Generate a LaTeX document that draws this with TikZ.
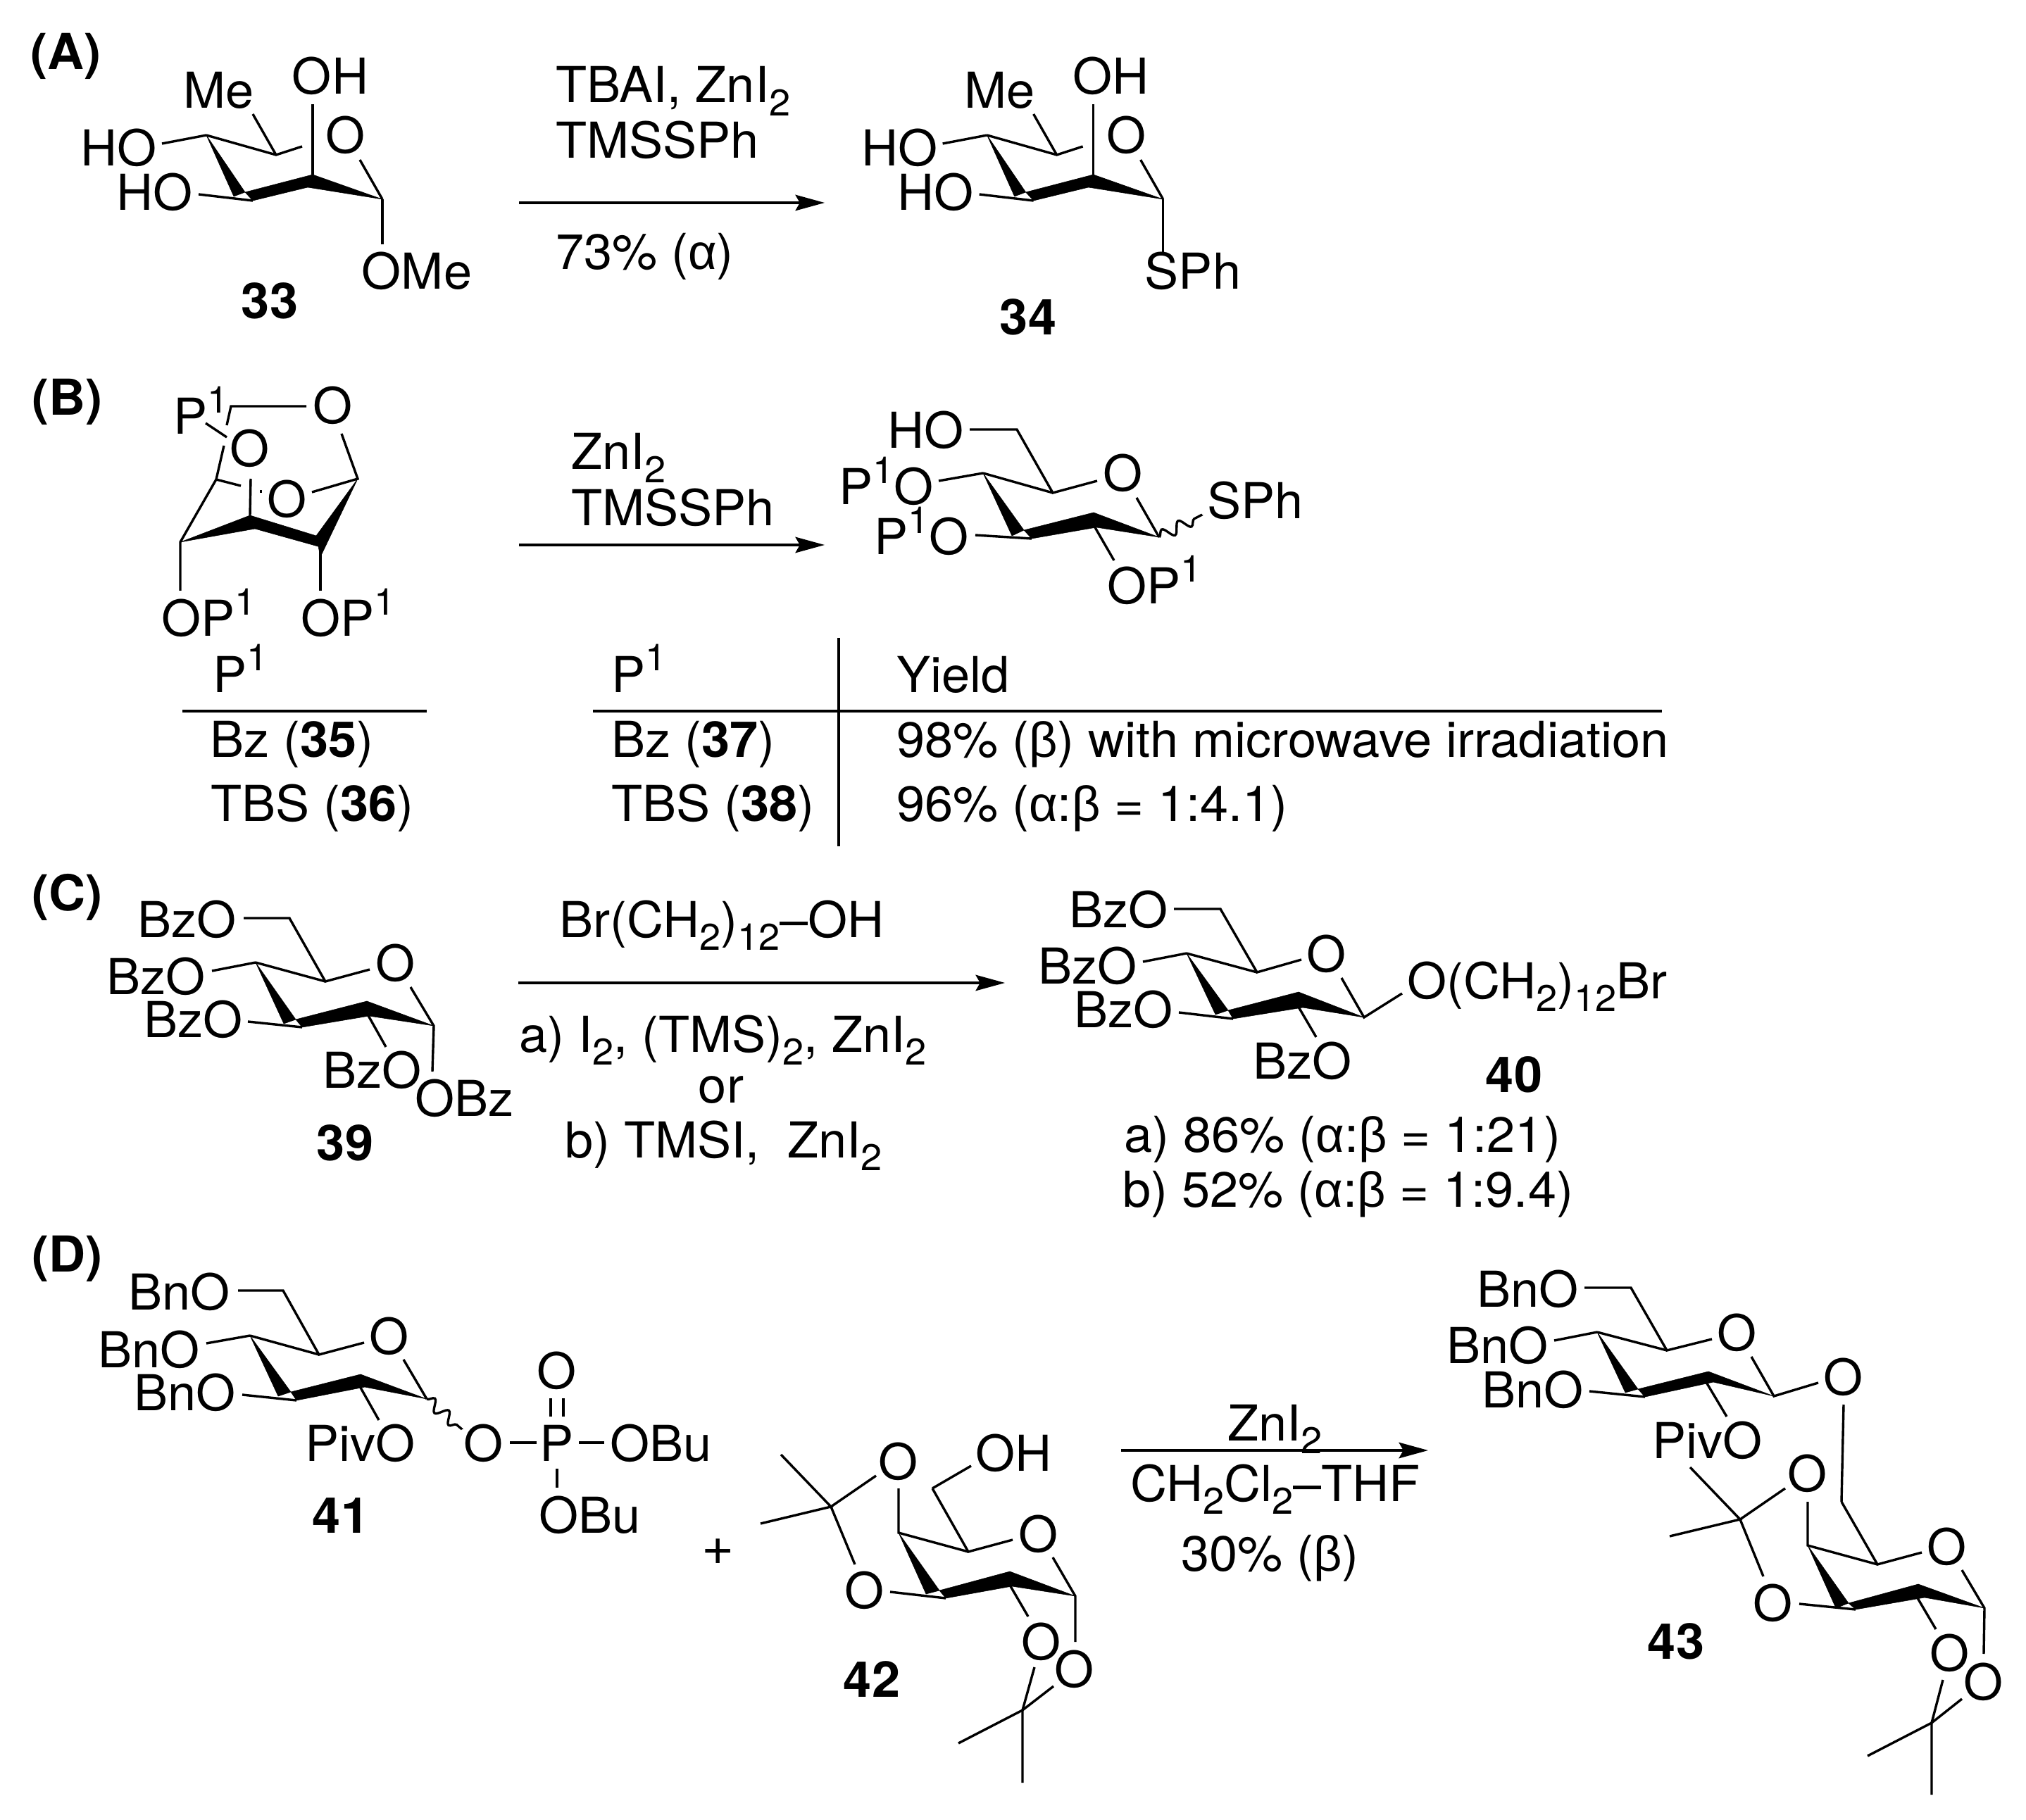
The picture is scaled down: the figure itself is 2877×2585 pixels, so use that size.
\documentclass[tikz,border=0pt]{standalone}
\usepackage{fontspec}
\setmainfont[FakeStretch=1.025]{TeX Gyre Heros}
\newfontfamily\grk{Liberation Sans}
\usetikzlibrary{arrows.meta,decorations.pathmorphing}
\newcommand{\sbs}[1]{\raisebox{-0.27em}{\fontsize{15}{15}\selectfont #1}}
\newcommand{\sps}[1]{\raisebox{0.43em}{\fontsize{15}{15}\selectfont #1}}
\newcommand{\ga}{{\grk α}}
\newcommand{\gb}{{\grk β}}
\tikzset{
  every node/.style={font=\fontsize{20}{24}\selectfont,inner sep=0pt,outer sep=0pt},
  lc/.style={anchor=base},
  lw/.style={anchor=base west},
  le/.style={anchor=base east},
  bf/.style={font=\fontsize{20}{24}\selectfont\bfseries},
  bond/.style={line width=0.97pt,line cap=butt,line join=miter},
  wb/.style={fill=black,draw=black,line width=0.15pt,line join=round},
  wavy/.style={line width=0.95pt,decorate,decoration={snake,segment length=7.5pt,amplitude=2.3pt,post length=0.5pt}},
  rxn/.style={line width=0.97pt,-{Stealth[length=11.8pt,width=6.4pt,inset=1.8pt]}},
}
% ring front edge: a=C4, b,c=wedge base, d, e, f = bold bond, g=C1
\newcommand{\ringfront}{%
  \fill[wb] (a)--(b)--(c)--cycle;
  \fill[wb] (b)--(d)--(e)--(f)--cycle;
  \fill[wb] (f)--(e)--(g)--cycle;
}
\newcommand{\fucsugar}{%
  \path (293,192) coordinate (a) (348,273) coordinate (b) (332,279) coordinate (c)
        (359,285) coordinate (d) (437,266) coordinate (e) (444,248) coordinate (f) (543,283) coordinate (g)
        (392,220) coordinate (c5) (429,208) coordinate (oe) (359,162) coordinate (me)
        (444,148) coordinate (oh) (230,204) coordinate (ho1) (282,276) coordinate (ho2) (511,227) coordinate (oe2);
  \node[lc] (lme) at (311,154) {Me};
  \node[lc] (loh) at (469,134) {OH};
  \node[lc] (lho1) at (169,236) {HO};
  \node[lc] (lho2) at (220,299) {HO};
  \node[lc] (lo) at (491,218) {O};
  \ringfront
  \draw[bond] (a)--(c5)--(oe);
  \draw[bond] (me)--(c5);
  \draw[bond] (oh)--(f);
  \draw[bond] (ho1)--(a);
  \draw[bond] (ho2)--(d);
  \draw[bond] (oe2)--(g);
}
\begin{document}
\begin{tikzpicture}[x=0.01cm,y=-0.01cm]
\fill[white] (0,0) rectangle (2877,2585);
\useasboundingbox (0,0) rectangle (2877,2585);

% Panel labels
\node[lw,bf] (pa) at (43,99) {(A)};
\node[lw,bf] (pb) at (45,590) {(B)};
\node[lw,bf] (pc) at (45,1293) {(C)};
\node[lw,bf] (pd) at (45,1806) {(D)};

% ---------- A
\begin{scope}[name prefix=m33-]
  \fucsugar
  \coordinate (ome) at (543,347);
  \draw[bond] (g)--(ome);
  \node[lc] (lome) at (592,411) {OMe};
\end{scope}
\node[lc,bf] (n33) at (383,453) {33};
\begin{scope}[name prefix=m34-,xshift=11.08cm]
  \fucsugar
  \coordinate (sph) at (543,361);
  \draw[bond] (g)--(sph);
\end{scope}
\node[lc] (lsph34) at (1694,411) {SPh};
\node[lc,bf] (n34) at (1460,476) {34};
\coordinate (aa) at (737,288); \coordinate (ab) at (1171,288);
\draw[rxn] (aa)--(ab);
\node[lw] (ra1) at (789,146) {TBAI, ZnI\sbs{2}};
\node[lw] (ra2) at (789,225) {TMSSPh};
\node[lw] (ra3) at (789,383) {73\% (\ga)};

% ---------- B left
\begin{scope}[name prefix=m35-]
  \path (328,577) coordinate (v1) (435,577) coordinate (ot) (322,604) coordinate (v2)
        (318,633) coordinate (v3) (307,681) coordinate (v4) (292,601) coordinate (p1) (322,621) coordinate (p2)
        (342,690) coordinate (v5) (256,770) coordinate (a) (443,699) coordinate (or) (508,680) coordinate (g)
        (485,616) coordinate (ot2) (356,680) coordinate (fv) (355,732) coordinate (f1) (362,751) coordinate (f2)
        (455,777) coordinate (r2) (449,761) coordinate (r1) (455,791) coordinate (r3)
        (256,839) coordinate (e1) (455,839) coordinate (e2)
        (370.5,696.5) coordinate (t1) (370.5,700.5) coordinate (t2);
  \fill[wb] (a)--(f1)--(f2)--cycle;
  \fill[wb] (f1)--(f2)--(r2)--(r1)--cycle;
  \fill[wb] (r1)--(r3)--(g)--cycle;
  \draw[bond] (ot)--(v1)--(v2);
  \draw[bond] (v3)--(v4)--(v5);
  \draw[bond] (p1)--(p2);
  \draw[bond] (v4)--(a)--(e1);
  \draw[bond] (or)--(g)--(ot2);
  \draw[bond] (fv)--(f1);
  \draw[bond] (r2)--(e2);
  \draw[bond] (t1)--(t2);
  \node[lw] (lp) at (246,617) {P\sps{1}};
  \node[lc] (lot) at (473,602) {O};
  \node[lc] (lof) at (355,663) {O};
  \node[lc] (lor) at (408,735) {O};
  \node[lw] (lop1) at (229,904) {OP\sps{1}};
  \node[lw] (lop2) at (427,904) {OP\sps{1}};
\end{scope}
\node[lw] (t1p) at (302,983) {P\sps{1}};
\coordinate (t1a) at (259,1010); \coordinate (t1b) at (606,1010);
\draw[bond] (t1a)--(t1b);
\node[lw] (t1r1) at (298,1075) {Bz (\textbf{35})};
\node[lw] (t1r2) at (299,1166) {TBS (\textbf{36})};

\coordinate (ba) at (737,774); \coordinate (bb) at (1171,774);
\draw[rxn] (ba)--(bb);
\node[lw] (rb1) at (811,667) {ZnI\sbs{2}};
\node[lw] (rb2) at (811,747) {TMSSPh};

% ---------- B product
\begin{scope}[name prefix=mb-]
  \path (1377,610) coordinate (h1) (1444,610) coordinate (h2) (1495,700) coordinate (c5)
        (1396,672) coordinate (a) (1558,683) coordinate (oe) (1333,683) coordinate (p4)
        (1385,760) coordinate (p3) (1465,765) coordinate (d) (1454,753) coordinate (b) (1437,761) coordinate (c)
        (1557,749) coordinate (e) (1553,728) coordinate (f) (1646,763) coordinate (g)
        (1614,707) coordinate (oe2) (1548,737) coordinate (o2a) (1582,796) coordinate (o2b) (1707,731) coordinate (sp);
  \ringfront
  \draw[bond] (h1)--(h2)--(c5)--(oe);
  \draw[bond] (a)--(c5);
  \draw[bond] (p4)--(a);
  \draw[bond] (p3)--(d);
  \draw[bond] (oe2)--(g);
  \draw[bond] (o2a)--(o2b);
  \draw[wavy] (g)--(sp);
  \node[le] (lho) at (1369,637) {HO};
  \node[lc] (lo) at (1595,698) {O};
  \node[le] (lp1) at (1326,717) {P\sps{1}O};
  \node[le] (lp2) at (1376,788) {P\sps{1}O};
  \node[lw] (lop) at (1572,857) {OP\sps{1}};
  \node[lw] (lsph) at (1714,737) {SPh};
\end{scope}
\coordinate (tv1) at (1191,906); \coordinate (tv2) at (1191,1202);
\coordinate (th1) at (842,1010); \coordinate (th2) at (2360,1010);
\draw[bond] (tv1)--(tv2);
\draw[bond] (th1)--(th2);
\node[lw] (t2p) at (868,983) {P\sps{1}};
\node[lw] (t2y) at (1273,983) {Yield};
\node[lw] (t2a) at (868,1075) {Bz (\textbf{37})};
\node[lw] (t2b) at (1273,1075) {98\% (\gb) with microwave irradiation};
\node[lw] (t2c) at (868,1166) {TBS (\textbf{38})};
\node[lw] (t2d) at (1273,1166) {96\% (\ga:\gb{} = 1:4.1)};

% ---------- C left
\begin{scope}[name prefix=m39-]
  \path (346,1304) coordinate (h1) (411,1304) coordinate (h2) (462,1394) coordinate (c5)
        (363,1367) coordinate (a) (525,1377) coordinate (oe) (301,1379) coordinate (p4)
        (352,1451) coordinate (p3) (429,1459) coordinate (d) (420,1448) coordinate (b) (403,1454) coordinate (c)
        (524,1443) coordinate (e) (521,1422) coordinate (f) (616,1457) coordinate (g)
        (583,1402) coordinate (oe2) (516,1430) coordinate (o2a) (548,1487) coordinate (o2b) (614,1522) coordinate (od);
  \ringfront
  \draw[bond] (h1)--(h2)--(c5)--(oe);
  \draw[bond] (a)--(c5);
  \draw[bond] (p4)--(a);
  \draw[bond] (p3)--(d);
  \draw[bond] (oe2)--(g)--(od);
  \draw[bond] (o2a)--(o2b);
  \node[le] (l1) at (336,1331) {BzO};
  \node[lc] (lo) at (562,1393) {O};
  \node[le] (l2) at (292,1412) {BzO};
  \node[le] (l3) at (345,1473) {BzO};
  \node[lw] (l4) at (458,1545) {BzO};
  \node[lw] (l5) at (589,1585) {OBz};
\end{scope}
\node[lc,bf] (n39) at (490,1648) {39};
\coordinate (ca) at (736,1396); \coordinate (cb) at (1427,1396);
\draw[rxn] (ca)--(cb);
\node[lw] (rc1) at (794,1331) {Br(CH\sbs{2})\sbs{12}–OH};
\node[lw] (rc2) at (737,1494) {a) I\sbs{2}, (TMS)\sbs{2}, ZnI\sbs{2}};
\node[lc] (rc3) at (1024,1566) {or};
\node[lw] (rc4) at (802,1644) {b) TMSI,~~ZnI\sbs{2}};

% ---------- C product
\begin{scope}[name prefix=m40-]
  \path (1667,1291) coordinate (h1) (1733,1291) coordinate (h2) (1785,1381) coordinate (c5)
        (1685,1354) coordinate (a) (1848,1363) coordinate (oe) (1623,1366) coordinate (p4)
        (1674,1438) coordinate (p3) (1751,1447) coordinate (d) (1744,1435) coordinate (b) (1726,1441) coordinate (c)
        (1850,1431) coordinate (e) (1844,1409) coordinate (f) (1937,1445) coordinate (g)
        (1905,1389) coordinate (oe2) (1838,1420) coordinate (o2a) (1869,1473) coordinate (o2b) (1991,1411) coordinate (od);
  \ringfront
  \draw[bond] (h1)--(h2)--(c5)--(oe);
  \draw[bond] (a)--(c5);
  \draw[bond] (p4)--(a);
  \draw[bond] (p3)--(d);
  \draw[bond] (oe2)--(g)--(od);
  \draw[bond] (o2a)--(o2b);
  \node[le] (l1) at (1659,1317) {BzO};
  \node[lc] (lo) at (1884,1380) {O};
  \node[le] (l2) at (1615,1397) {BzO};
  \node[le] (l3) at (1666,1459) {BzO};
  \node[lw] (l4) at (1779,1532) {BzO};
  \node[lw] (l5) at (1998,1418) {O(CH\sbs{2})\sbs{12}Br};
\end{scope}
\node[lc,bf] (n40) at (2150,1551) {40};
\node[lw] (yc1) at (1596,1636) {a) 86\% (\ga:\gb{} = 1:21)};
\node[lw] (yc2) at (1594,1714) {b) 52\% (\ga:\gb{} = 1:9.4)};

% ---------- D 41
\begin{scope}[name prefix=m41-]
  \path (338,1833) coordinate (h1) (402,1833) coordinate (h2) (453,1924) coordinate (c5)
        (355,1897) coordinate (a) (517,1907) coordinate (oe) (293,1908) coordinate (p4)
        (344,1981) coordinate (p3) (421,1989) coordinate (d) (413,1977) coordinate (b) (395,1983) coordinate (c)
        (518,1970) coordinate (e) (512,1952) coordinate (f) (606,1987) coordinate (g)
        (573,1931) coordinate (oe2) (507,1962) coordinate (o2a) (538,2017) coordinate (o2b) (656,2030) coordinate (wv)
        (724,2049) coordinate (x1) (762,2049) coordinate (x2) (822,2049) coordinate (x3) (858,2049) coordinate (x4)
        (782,1986) coordinate (y1) (782,2012) coordinate (y2) (800,1986) coordinate (y3) (800,2012) coordinate (y4)
        (791,2086) coordinate (z1) (791,2113) coordinate (z2);
  \ringfront
  \draw[bond] (h1)--(h2)--(c5)--(oe);
  \draw[bond] (a)--(c5);
  \draw[bond] (p4)--(a);
  \draw[bond] (p3)--(d);
  \draw[bond] (oe2)--(g);
  \draw[bond] (o2a)--(o2b);
  \draw[wavy] (g)--(wv);
  \draw[bond] (x1)--(x2);
  \draw[bond] (x3)--(x4);
  \draw[bond] (y1)--(y2);
  \draw[bond] (y3)--(y4);
  \draw[bond] (z1)--(z2);
  \node[le] (l1) at (327,1860) {BnO};
  \node[lc] (lo) at (553,1923) {O};
  \node[le] (l2) at (284,1942) {BnO};
  \node[le] (l3) at (335,2003) {BnO};
  \node[lw] (l4) at (433,2075) {PivO};
  \node[lc] (lo2) at (687,2075) {O};
  \node[lc] (lp) at (791,2075) {P};
  \node[lw] (lb1) at (866,2075) {OBu};
  \node[lc] (lo3) at (791,1972) {O};
  \node[lw] (lb2) at (765,2177) {OBu};
\end{scope}
\node[lc,bf] (n41) at (484,2177) {41};
\node[font=\fontsize{22}{24}\selectfont] (plus) at (1020,2204) {+};

% ---------- D 42
\newcommand{\isopro}{%
  \ringfront
  \draw[bond] (me1)--(cm)--(me2);
  \draw[bond] (ou)--(cm)--(ol);
  \draw[bond] (up)--(a)--(c5);
  \draw[bond] (ch)--(c5)--(oe);
  \draw[bond] (lowb)--(d);
  \draw[bond] (oe2)--(g)--(gd);
  \draw[bond] (o2a)--(o2b);
  \draw[bond] (q1)--(cq)--(q2);
  \draw[bond] (q3)--(cq)--(q4);
}
\begin{scope}[name prefix=m42-]
  \path (1180,2140) coordinate (cm) (1109,2066) coordinate (me1) (1080,2164) coordinate (me2)
        (1244,2096) coordinate (ou) (1214,2222) coordinate (ol)
        (1276,2177) coordinate (a) (1276,2114) coordinate (up) (1375,2204) coordinate (c5)
        (1324,2114) coordinate (ch) (1379,2082) coordinate (oh) (1438,2187) coordinate (oe)
        (1495,2212) coordinate (oe2) (1527,2267) coordinate (g) (1527,2332) coordinate (gd)
        (1264,2261) coordinate (lowb) (1343,2270) coordinate (d) (1334,2259) coordinate (b) (1315,2264) coordinate (c)
        (1437,2253) coordinate (e) (1434,2232) coordinate (f)
        (1428,2241) coordinate (o2a) (1460,2296) coordinate (o2b)
        (1452,2429) coordinate (cq) (1469,2368) coordinate (q1) (1452,2532) coordinate (q2)
        (1496,2395) coordinate (q3) (1361,2476) coordinate (q4);
  \isopro
  \draw[bond] (ch)--(oh);
  \node[lc] (lo1) at (1276,2101) {O};
  \node[lc] (lo2) at (1228,2284) {O};
  \node[lw] (loh) at (1385,2089) {OH};
  \node[lc] (lo3) at (1475,2204) {O};
  \node[lc] (lo4) at (1479,2357) {O};
  \node[lc] (lo5) at (1526,2396) {O};
\end{scope}
\node[lc,bf] (n42) at (1238,2410) {42};

\coordinate (da) at (1592,2060); \coordinate (db) at (2028,2060);
\draw[rxn] (da)--(db);
\node[lw] (rd1) at (1743,2046) {ZnI\sbs{2}};
\node[lw] (rd2) at (1605,2132) {CH\sbs{2}Cl\sbs{2}–THF};
\node[lw] (rd3) at (1677,2231) {30\% (\gb)};

% ---------- D 43
\begin{scope}[name prefix=m43a-]
  \path (2250,1829) coordinate (h1) (2316,1829) coordinate (h2) (2367,1918) coordinate (c5)
        (2268,1892) coordinate (a) (2431,1902) coordinate (oe) (2207,1904) coordinate (p4)
        (2257,1976) coordinate (p3) (2336,1984) coordinate (d) (2326,1973) coordinate (b) (2308,1978) coordinate (c)
        (2433,1963) coordinate (e) (2426,1948) coordinate (f) (2519,1983) coordinate (g)
        (2487,1927) coordinate (oe2) (2421,1960) coordinate (o2a) (2452,2012) coordinate (o2b) (2582,1964) coordinate (od);
  \ringfront
  \draw[bond] (h1)--(h2)--(c5)--(oe);
  \draw[bond] (a)--(c5);
  \draw[bond] (p4)--(a);
  \draw[bond] (p3)--(d);
  \draw[bond] (oe2)--(g)--(od);
  \draw[bond] (o2a)--(o2b);
  \node[le] (l1) at (2242,1856) {BnO};
  \node[lc] (lo) at (2467,1918) {O};
  \node[le] (l2) at (2199,1936) {BnO};
  \node[le] (l3) at (2249,1999) {BnO};
  \node[lw] (l4) at (2346,2071) {PivO};
  \node[lc] (lgl) at (2618,1981) {O};
\end{scope}
\begin{scope}[name prefix=m43b-]
  \path (2471,2158) coordinate (cm) (2400,2084) coordinate (me1) (2371,2182) coordinate (me2)
        (2535,2114) coordinate (ou) (2504,2239) coordinate (ol)
        (2567,2195) coordinate (a) (2567,2133) coordinate (up) (2666,2222) coordinate (c5)
        (2615,2133) coordinate (ch) (2618,1995) coordinate (glb) (2729,2205) coordinate (oe)
        (2786,2230) coordinate (oe2) (2818,2284) coordinate (g) (2817,2349) coordinate (gd)
        (2555,2278) coordinate (lowb) (2635,2286) coordinate (d) (2625,2277) coordinate (b) (2607,2284) coordinate (c)
        (2733,2269) coordinate (e) (2724,2250) coordinate (f)
        (2719,2263) coordinate (o2a) (2749,2314) coordinate (o2b)
        (2743,2447) coordinate (cq) (2759,2386) coordinate (q1) (2743,2549) coordinate (q2)
        (2786,2413) coordinate (q3) (2652,2494) coordinate (q4);
  \isopro
  \draw[bond] (ch)--(glb);
  \node[lc] (lo1) at (2567,2118) {O};
  \node[lc] (lo2) at (2518,2302) {O};
  \node[lc] (lo3) at (2765,2222) {O};
  \node[lc] (lo4) at (2769,2373) {O};
  \node[lc] (lo5) at (2817,2414) {O};
\end{scope}
\node[lc,bf] (n43) at (2380,2356) {43};
\end{tikzpicture}
\end{document}
